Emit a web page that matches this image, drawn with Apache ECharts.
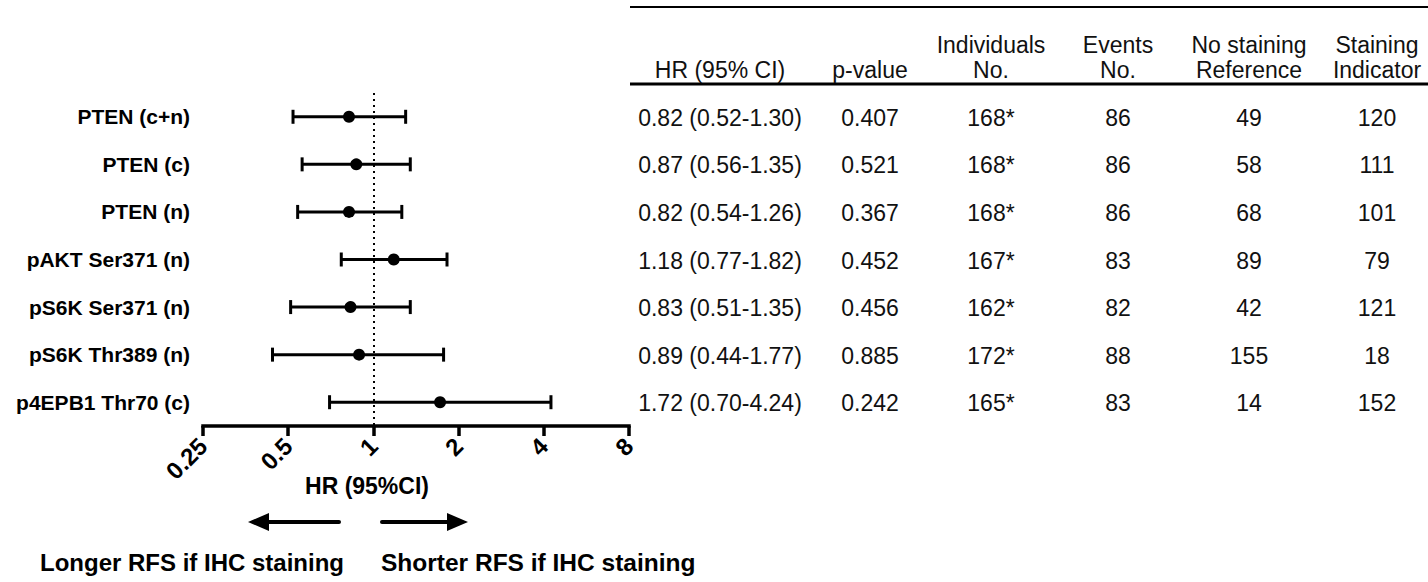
<!DOCTYPE html>
<html>
<head>
<meta charset="utf-8">
<title>Forest plot</title>
<script src="https://cdn.jsdelivr.net/npm/echarts@6/dist/echarts.min.js"></script>
<style>
  html, body { margin: 0; padding: 0; background: #fff; }
  #chart { width: 1428px; height: 582px; }
</style>
</head>
<body>
<div id="chart"></div>
<script>
  // data
  const markers = ['PTEN (c+n)', 'PTEN (c)', 'PTEN (n)', 'pAKT Ser371 (n)', 'pS6K Ser371 (n)', 'pS6K Thr389 (n)', 'p4EPB1 Thr70 (c)'];
  const hr = [0.82, 0.87, 0.82, 1.18, 0.83, 0.89, 1.72];
  const ciLow = [0.52, 0.56, 0.54, 0.77, 0.51, 0.44, 0.70];
  const ciHigh = [1.30, 1.35, 1.26, 1.82, 1.35, 1.77, 4.24];
  const pValues = ['0.407', '0.521', '0.367', '0.452', '0.456', '0.885', '0.242'];
  const individuals = ['168*', '168*', '168*', '167*', '162*', '172*', '165*'];
  const events = [86, 86, 86, 83, 82, 88, 83];
  const noStaining = [49, 58, 68, 89, 42, 155, 14];
  const staining = [120, 111, 101, 79, 121, 18, 152];
  const xTicks = [0.25, 0.5, 1, 2, 4, 8];
  const headTop = ['', '', 'Individuals', 'Events', 'No staining', 'Staining'];
  const headBottom = ['HR (95% CI)', 'p-value', 'No.', 'No.', 'Reference', 'Indicator'];

  // layout
  const tableLeft = 630;
  const colCenter = [90, 240, 361, 488, 619, 747];
  const fontName = 'Liberation Sans, Arial, sans-serif';
  const tableFont = '23px ' + fontName;

  const hrText = hr.map(function (v, i) {
    return v.toFixed(2) + ' (' + ciLow[i].toFixed(2) + '-' + ciHigh[i].toFixed(2) + ')';
  });
  const columns = [hrText, pValues, individuals, events, noStaining, staining];

  const chart = echarts.init(document.getElementById('chart'), null, { renderer: 'svg' });

  function tableSeries(col, k) {
    return {
      type: 'custom',
      xAxisIndex: 1,
      yAxisIndex: 1,
      silent: true,
      data: col.map(function (v, i) { return [colCenter[k], i]; }),
      renderItem: function (params, api) {
        const p = api.coord([api.value(0), api.value(1)]);
        return {
          type: 'text',
          style: {
            x: p[0], y: p[1] + 1,
            text: col[params.dataIndex] + '',
            align: 'center', verticalAlign: 'middle',
            font: tableFont, fill: '#111'
          }
        };
      }
    };
  }

  const graphics = [
    { type: 'line', shape: { x1: tableLeft, y1: 7, x2: 1428, y2: 7 }, style: { stroke: '#000', lineWidth: 2 } },
    { type: 'line', shape: { x1: tableLeft, y1: 84, x2: 1428, y2: 84 }, style: { stroke: '#000', lineWidth: 3 } },
    // arrows
    { type: 'line', shape: { x1: 262, y1: 522, x2: 339, y2: 522 }, style: { stroke: '#000', lineWidth: 4, lineCap: 'round' } },
    { type: 'polygon', shape: { points: [[248, 522], [269, 513], [269, 531]] }, style: { fill: '#000' } },
    { type: 'line', shape: { x1: 382, y1: 522, x2: 455, y2: 522 }, style: { stroke: '#000', lineWidth: 4, lineCap: 'round' } },
    { type: 'polygon', shape: { points: [[468, 522], [447, 513], [447, 531]] }, style: { fill: '#000' } },
    { type: 'text', left: 40, top: 550, style: { text: 'Longer RFS if IHC staining', font: 'bold 24px ' + fontName, fill: '#000' } },
    { type: 'text', left: 381, top: 550, style: { text: 'Shorter RFS if IHC staining', font: 'bold 24.5px ' + fontName, fill: '#000' } }
  ];
  headBottom.forEach(function (t, k) {
    if (headTop[k]) {
      graphics.push({ type: 'text', x: tableLeft + colCenter[k], y: 45,
        style: { text: headTop[k], align: 'center', verticalAlign: 'middle', font: tableFont, fill: '#111' } });
    }
    graphics.push({ type: 'text', x: tableLeft + colCenter[k], y: 70,
      style: { text: t, align: 'center', verticalAlign: 'middle', font: tableFont, fill: '#111' } });
  });

  chart.setOption({
    animation: false,
    textStyle: { fontFamily: fontName },
    grid: [
      { left: 203, right: 799, top: 93, bottom: 156, containLabel: false },
      { left: tableLeft, right: 0, top: 93, bottom: 156, containLabel: false }
    ],
    xAxis: [
      {
        type: 'log', logBase: 2, min: xTicks[0], max: xTicks[xTicks.length - 1], interval: 1,
        gridIndex: 0,
        axisLine: { show: true, onZero: false, lineStyle: { color: '#000', width: 3.5, cap: 'square' } },
        axisTick: { show: true, length: 10, lineStyle: { color: '#000', width: 3.5 } },
        splitLine: { show: false },
        axisLabel: {
          rotate: 45, margin: 16, color: '#000', fontWeight: 'bold', fontSize: 24,
          formatter: function (v) { return String(+(+v).toPrecision(3)); }
        },
        name: 'HR (95%CI)', nameLocation: 'middle', nameGap: 48, nameMoveOverlap: false,
        nameTextStyle: { color: '#000', fontWeight: 'bold', fontSize: 23, padding: [0, 98, 0, 0] }
      },
      { type: 'value', gridIndex: 1, min: 0, max: 798, show: false }
    ],
    yAxis: [
      {
        type: 'category', data: markers, inverse: true, gridIndex: 0,
        axisLine: { show: false }, axisTick: { show: false },
        axisLabel: { color: '#000', fontWeight: 'bold', fontSize: 21, margin: 13 }
      },
      { type: 'category', data: markers, inverse: true, gridIndex: 1, show: false }
    ],
    series: [
      {
        type: 'line', data: [], xAxisIndex: 0, yAxisIndex: 0, silent: true,
        markLine: {
          symbol: 'none', silent: true, label: { show: false },
          lineStyle: { color: '#000', width: 2, type: [2, 4] },
          data: [{ xAxis: 1 }]
        }
      },
      {
        type: 'custom', xAxisIndex: 0, yAxisIndex: 0, silent: true,
        data: markers.map(function (m, i) { return [hr[i], ciLow[i], ciHigh[i], i]; }),
        encode: { x: [0, 1, 2], y: 3 },
        renderItem: function (params, api) {
          const row = api.value(3);
          const p = api.coord([api.value(0), row]);
          const lo = api.coord([api.value(1), row]);
          const hi = api.coord([api.value(2), row]);
          const ls = { stroke: '#000', lineWidth: 3 };
          return {
            type: 'group',
            children: [
              { type: 'line', shape: { x1: lo[0], y1: lo[1], x2: hi[0], y2: hi[1] }, style: ls },
              { type: 'line', shape: { x1: lo[0], y1: lo[1] - 7, x2: lo[0], y2: lo[1] + 7 }, style: ls },
              { type: 'line', shape: { x1: hi[0], y1: hi[1] - 7, x2: hi[0], y2: hi[1] + 7 }, style: ls },
              { type: 'circle', shape: { cx: p[0], cy: p[1], r: 6 }, style: { fill: '#000' } }
            ]
          };
        }
      }
    ].concat(columns.map(tableSeries)),
    graphic: graphics
  });
</script>
</body>
</html>
